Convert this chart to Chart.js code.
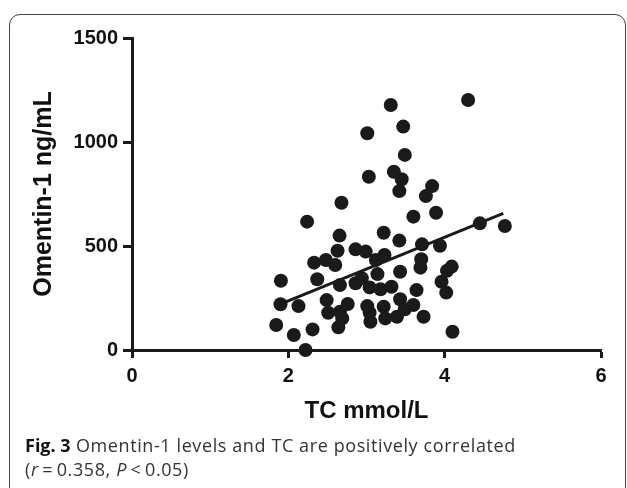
<!DOCTYPE html>
<html>
<head>
<meta charset="utf-8">
<script src="https://cdn.jsdelivr.net/npm/chart.js@4.4.1/dist/chart.umd.min.js"></script>
<style>
  html, body { margin: 0; padding: 0; background: #fff; }
  #wrap { position: relative; width: 627px; height: 488px; overflow: hidden; }
  #frame {
    position: absolute; left: 9px; top: 14px; width: 615px; height: 520px;
    border: 1.5px solid #444; border-radius: 11px 11px 0 0;
  }
  #c { position: absolute; left: 0; top: 0; }
  .cap {
    position: absolute; left: 25px; font-family: "Open Sans", sans-serif;
    font-size: 18px; letter-spacing: 0.6px; line-height: 24px; color: #333;
    white-space: nowrap;
  }
  .cap b { color: #111; font-weight: 700; letter-spacing: 0; }
</style>
</head>
<body>
<div id="wrap">
  <div id="frame"></div>
  <canvas id="c" width="627" height="488"></canvas>
  <div class="cap" style="top:433px"><b>Fig. 3</b> Omentin-1 levels and TC are positively correlated</div>
  <div class="cap" style="top:457px">(<i>r</i>&#8201;=&#8201;0.358, <i>P</i>&#8201;&lt;&#8201;0.05)</div>
</div>
<script>
// TC (mmol/L) and omentin-1 (ng/mL) for each subject
const tcValues = [
  4.30, 3.31, 3.47, 3.01, 3.49, 3.03, 3.35, 3.45, 3.42, 3.84, 3.76,
  2.68, 2.24, 3.60, 3.89, 4.45, 4.77,
  2.655, 3.22, 3.42, 2.63, 2.86, 2.99, 3.71, 3.94,
  2.33, 2.48, 2.60, 3.12, 3.23, 3.70, 3.69, 3.43, 3.14, 4.09, 4.03,
  1.905, 2.37, 2.66, 2.86, 2.94, 3.04, 3.18, 3.32, 3.96, 4.02, 3.64,
  1.90, 2.13, 2.49, 2.76, 2.51, 2.66, 2.69, 3.01, 3.22, 3.43, 3.60, 3.49,
  3.04, 3.05, 3.24, 3.39, 3.73,
  2.64, 2.31, 1.845, 2.07, 2.22, 4.10
];
const omentinValues = [
  1202, 1178, 1074, 1042, 938, 833, 857, 821, 764, 788, 740,
  708, 617, 641, 660, 609, 596,
  550, 564, 526, 477, 484, 473, 508, 501,
  420, 433, 409, 433, 457, 436, 396, 376, 365, 401, 381,
  333, 340, 312, 321, 345, 301, 292, 304, 328, 276, 288,
  220, 211, 240, 221, 179, 184, 152, 211, 208, 244, 216, 196,
  179, 136, 152, 160, 160,
  109, 99, 120, 72, 0, 88
];
// regression line end points
const fitX = [1.85, 4.75];
const fitY = [213, 657];

const xTicks = [0, 2, 4, 6];
const yTicks = [0, 500, 1000, 1500];

const INK = "#1a1a1a";
const AXIS_FONT = '"Liberation Sans", Arial, sans-serif';

function toPoints(xs, ys) {
  return xs.map(function (x, i) { return { x: x, y: ys[i] }; });
}

function axisOptions(min, max, ticks, title, size, tickLen) {
  return {
    type: "linear",
    min: min,
    max: max,
    afterBuildTicks: function (s) {
      s.ticks = ticks.map(function (v) { return { value: v }; });
    },
    border: { display: true, color: INK, width: 3 },
    grid: {
      drawOnChartArea: false,
      drawTicks: true,
      tickLength: tickLen,
      tickWidth: 3,
      tickColor: INK,
    },
    ticks: {
      color: "#111",
      padding: 5,
      maxRotation: 0,
      font: { family: AXIS_FONT, weight: "bold", size: 20 },
      callback: function (v) { return String(v); },
    },
    title: {
      display: true,
      text: title,
      color: "#111",
      padding: 0,
      font: { family: AXIS_FONT, weight: "bold", size: size },
    },
  };
}

const xAxis = axisOptions(0, 6, xTicks, "TC mmol/L", 24, 8);
xAxis.ticks.padding = 6;
xAxis.afterFit = function (s) { s.height = 76; };

const yAxis = axisOptions(0, 1500, yTicks, "Omentin-1 ng/mL", 25, 9);
yAxis.afterFit = function (s) { s.width = 103; };

new Chart(document.getElementById("c").getContext("2d"), {
  type: "scatter",
  data: {
    datasets: [
      {
        data: toPoints(tcValues, omentinValues),
        pointRadius: 7,
        pointBackgroundColor: INK,
        pointBorderWidth: 0,
        clip: false,
      },
      {
        data: toPoints(fitX, fitY),
        showLine: true,
        borderColor: INK,
        borderWidth: 3,
        pointRadius: 0,
        clip: false,
      },
    ],
  },
  options: {
    responsive: false,
    animation: false,
    events: [],
    layout: { padding: { left: 29, top: 38, right: 26, bottom: 62 } },
    plugins: { legend: { display: false }, tooltip: { enabled: false } },
    scales: { x: xAxis, y: yAxis },
  },
});
</script>
</body>
</html>
